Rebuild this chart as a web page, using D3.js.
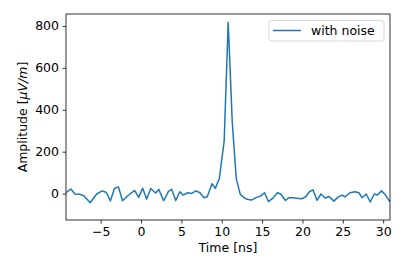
<!DOCTYPE html>
<html>
<head>
<meta charset="utf-8">
<script src="https://cdn.jsdelivr.net/npm/d3@7"></script>
<style>
  body { margin: 0; background: #fff; }
  text { font-family: "DejaVu Sans", sans-serif; fill: #000; }
</style>
</head>
<body>
<svg id="chart" width="407" height="271"></svg>
<script>
// values
const timeNs = [-9.3, -8.7, -8.2, -7.6, -7.1, -6.3, -5.5, -4.8, -4.3, -3.8, -3.3, -2.8, -2.3, -1.6, -0.8, -0.3,
  0.2, 0.7, 1.2, 1.8, 2.2, 2.8, 3.4, 3.8, 4.3, 4.8, 5.2, 5.8, 6.3, 6.8, 7.3, 7.8, 8.2, 8.8, 9.2, 9.7,
  10.3, 10.8, 11.3, 11.8, 12.3, 12.9, 13.3, 13.7, 14.3, 14.8, 15.3, 15.8, 16.3, 16.9, 17.3, 17.9, 18.3, 18.8,
  19.3, 19.9, 20.4, 20.9, 21.3, 21.8, 22.3, 22.8, 23.3, 23.9, 24.4, 24.9, 25.3, 25.9, 26.5, 27.0, 27.4, 27.9,
  28.4, 28.9, 29.3, 29.8, 30.3, 30.85];
const amplitude = [4, 22, -2, -3, -10, -44, -2, 13, 5, -35, 24, 32, -34, -9, 15, -18,
  25, -26, 24, 3, 20, -34, 11, 20, -33, 9, -7, 4, 1, 13, 4, -20, -15, 47, 25, 72,
  250, 817, 343, 70, -4, -23, -28, -31, -18, -12, 4, -39, -23, 4, -2, -33, -20, -20,
  -22, -25, -15, 10, 18, -32, -2, -21, -14, -36, -17, -7, -15, 4, 9, 4, -20, -2,
  -40, -2, -7, 13, -7, -39];
const xTicks = [-5, 0, 5, 10, 15, 20, 25, 30];
const yTicks = [0, 200, 400, 600, 800];
const seriesName = "with noise";

const svg = d3.select("#chart");
const margin = {left: 66, right: 17, top: 14, bottom: 51};
const W = 407, H = 271;

const x = d3.scaleLinear().domain([-9.3, 30.85]).range([margin.left, W - margin.right]);
const y = d3.scaleLinear().domain([-126, 857]).range([H - margin.bottom, margin.top]);

const pts = timeNs.map((t, i) => ({t, v: amplitude[i]}));

svg.append("defs").append("clipPath").attr("id", "clip")
  .append("rect")
  .attr("x", margin.left).attr("y", margin.top)
  .attr("width", W - margin.left - margin.right)
  .attr("height", H - margin.top - margin.bottom);

svg.append("path")
  .datum(pts)
  .attr("clip-path", "url(#clip)")
  .attr("fill", "none")
  .attr("stroke", "#1f77b4")
  .attr("stroke-width", 1.5)
  .attr("stroke-linejoin", "round")
  .attr("d", d3.line().x(d => x(d.t)).y(d => y(d.v)));

// axes
const xAxis = svg.append("g")
  .attr("transform", `translate(0,${H - margin.bottom})`)
  .call(d3.axisBottom(x).tickValues(xTicks).tickSize(3.5).tickPadding(3.5)
    .tickFormat(d => d < 0 ? "\u2212" + Math.abs(d) : d));
const yAxis = svg.append("g")
  .attr("transform", `translate(${margin.left},0)`)
  .call(d3.axisLeft(y).tickValues(yTicks).tickSize(3.5).tickPadding(3.5));

[xAxis, yAxis].forEach(g => {
  g.select(".domain").remove();
  g.selectAll("line").attr("stroke", "#000").attr("stroke-width", 0.8);
  g.selectAll("text").style("font-size", "12.5px").style("font-family", "DejaVu Sans");
});

// frame
svg.append("rect")
  .attr("x", margin.left).attr("y", margin.top)
  .attr("width", W - margin.left - margin.right)
  .attr("height", H - margin.top - margin.bottom)
  .attr("fill", "none").attr("stroke", "#000").attr("stroke-width", 0.8);

// axis labels
svg.append("text")
  .attr("x", (margin.left + W - margin.right) / 2).attr("y", 252)
  .attr("text-anchor", "middle").style("font-size", "12.5px")
  .text("Time [ns]");

const yl = svg.append("text")
  .attr("transform", `translate(27,${(margin.top + H - margin.bottom) / 2}) rotate(-90)`)
  .attr("text-anchor", "middle").style("font-size", "12.5px");
yl.append("tspan").text("Amplitude [");
yl.append("tspan").style("font-style", "italic").text("\u03bcV/m");
yl.append("tspan").text("]");

// legend
const lg = svg.append("g");
lg.append("rect")
  .attr("x", 269).attr("y", 20.5).attr("width", 115).attr("height", 20.5)
  .attr("rx", 2.5).attr("fill", "#fff").attr("fill-opacity", 0.8)
  .attr("stroke", "#ccc").attr("stroke-width", 0.8);
lg.append("line")
  .attr("x1", 273).attr("x2", 301).attr("y1", 30.5).attr("y2", 30.5)
  .attr("stroke", "#1f77b4").attr("stroke-width", 1.5);
lg.append("text")
  .attr("x", 311).attr("y", 35).style("font-size", "12.5px")
  .text(seriesName);
</script>
</body>
</html>
